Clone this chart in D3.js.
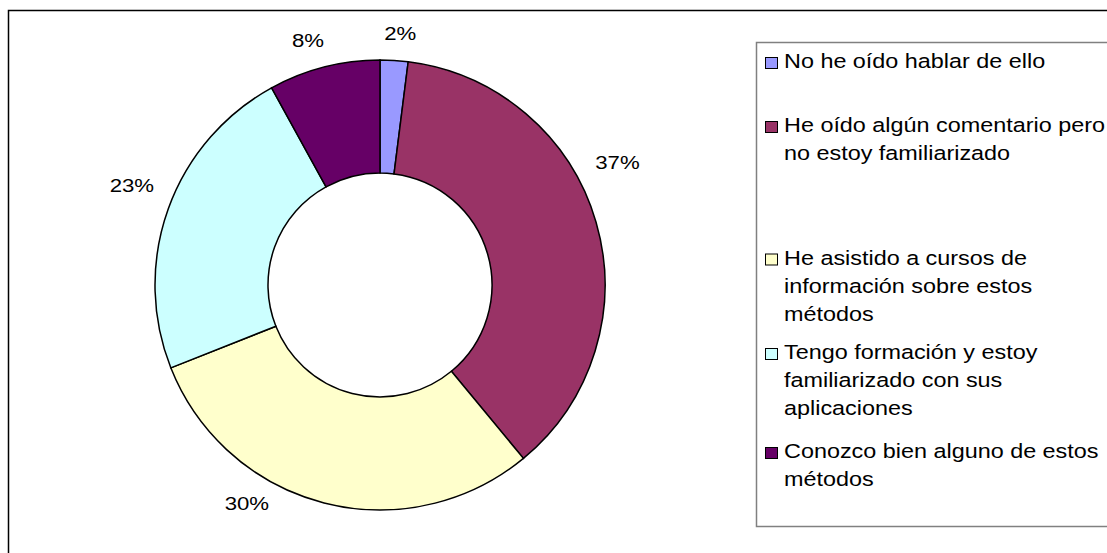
<!DOCTYPE html>
<html>
<head>
<meta charset="utf-8">
<style>
body{ margin:0; background:#fff; }
text{ font-family: Arial, "Liberation Sans", sans-serif; fill:#000; }
.slice{ stroke:#000; stroke-width:1.5; }
</style>
<script src="https://d3js.org/d3.v7.min.js"></script>
</head>
<body>
<script>
var w = 1107;
var h = 553;

// data
var categories = [
    "No he oído hablar de ello",
    "He oído algún comentario pero no estoy familiarizado",
    "He asistido a cursos de información sobre estos métodos",
    "Tengo formación y estoy familiarizado con sus aplicaciones",
    "Conozco bien alguno de estos métodos"
];
var legendLines = [
    ["No he oído hablar de ello"],
    ["He oído algún comentario pero", "no estoy familiarizado"],
    ["He asistido a cursos de", "información sobre estos", "métodos"],
    ["Tengo formación y estoy", "familiarizado con sus", "aplicaciones"],
    ["Conozco bien alguno de estos", "métodos"]
];
var values = [2, 37, 30, 23, 8];
var labels = ["2%", "37%", "30%", "23%", "8%"];
var colors = ["#9999ff", "#993366", "#ffffcc", "#ccffff", "#660066"];

// layout (Excel nudges the labels a bit, degrees)
var labelNudge = [1, -11, 17, 2, -2];
var legendBase = [68, 132, 264.5, 359, 458];
var lineH = 28;
var cx = 380, cy = 285, rOut = 225, rIn = 112;
var stretch = 1.2;

var svg = d3.select("body").append("svg")
    .attr("width", w).attr("height", h);

// chart border
svg.append("rect")
    .attr("x", 8.5).attr("y", 10.5)
    .attr("width", w + 20).attr("height", h + 20)
    .attr("fill", "none").attr("stroke", "#000").attr("stroke-width", 1.5);

var pie = d3.pie().sort(null).value(function(d){ return d; });
var arcs = pie(values);
var arc = d3.arc().innerRadius(rIn).outerRadius(rOut);

var g = svg.append("g").attr("transform", "translate(" + cx + "," + cy + ")");

g.selectAll("path.slice")
    .data(arcs)
    .enter().append("path")
    .attr("class", "slice")
    .attr("d", arc)
    .attr("fill", function(d, i){ return colors[i]; });

// percentage labels
g.selectAll("text.lbl")
    .data(arcs)
    .enter().append("text")
    .attr("class", "lbl")
    .attr("font-size", "18.5px")
    .attr("text-anchor", "middle")
    .attr("dy", "0.35em")
    .text(function(d, i){ return labels[i]; })
    .attr("transform", function(d, i){
        var a = (d.startAngle + d.endAngle) / 2 + labelNudge[i] * Math.PI / 180;
        var hw = this.getComputedTextLength() * stretch / 2;
        var r = rOut + 13 + Math.abs(Math.sin(a)) * hw + Math.abs(Math.cos(a)) * 7;
        if (Math.cos(a) > 0) r += 6;
        var x = Math.sin(a) * r, y = -Math.cos(a) * r;
        return "translate(" + x + "," + y + ") scale(" + stretch + ",1)";
    });

// legend
var leg = svg.append("g");
leg.append("rect")
    .attr("x", 756.5).attr("y", 42.5)
    .attr("width", 400).attr("height", 484)
    .attr("fill", "none").attr("stroke", "#808080").attr("stroke-width", 1.5);

var items = leg.selectAll("g.item")
    .data(categories)
    .enter().append("g")
    .attr("class", "item");

items.append("rect")
    .attr("x", 765.5)
    .attr("y", function(d, i){ return legendBase[i] - 10.5; })
    .attr("width", 12).attr("height", 11)
    .attr("fill", function(d, i){ return colors[i]; })
    .attr("stroke", "#000").attr("stroke-width", 1);

items.each(function(d, i){
    var it = d3.select(this);
    legendLines[i].forEach(function(line, j){
        var y = legendBase[i] + j * lineH;
        it.append("text")
            .attr("font-size", "19.5px")
            .attr("transform", "translate(784," + y + ") scale(" + 1.2 + ",1)")
            .text(line);
    });
});
</script>
</body>
</html>
